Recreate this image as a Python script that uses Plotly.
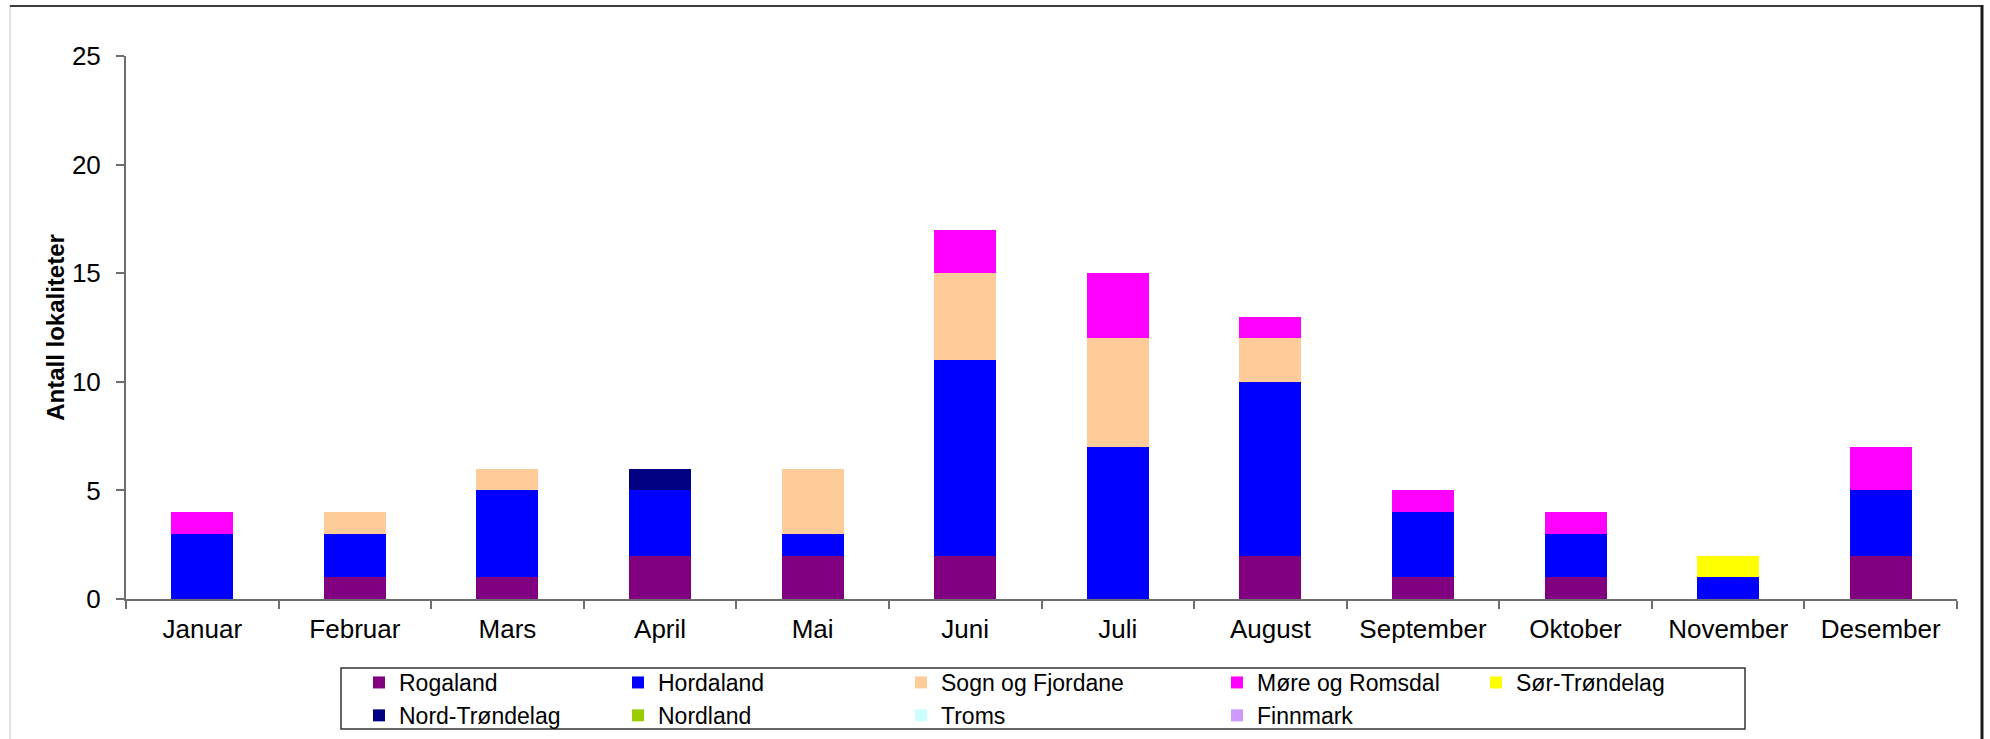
import plotly.graph_objects as go

months = ["Januar", "Februar", "Mars", "April", "Mai", "Juni", "Juli",
          "August", "September", "Oktober", "November", "Desember"]

rogaland        = [0, 1, 1, 2, 2, 2, 0, 2, 1, 1, 0, 2]
hordaland       = [3, 2, 4, 3, 1, 9, 7, 8, 3, 2, 1, 3]
sogn_og_fjordane = [0, 1, 1, 0, 3, 4, 5, 2, 0, 0, 0, 0]
more_og_romsdal = [1, 0, 0, 0, 0, 2, 3, 1, 1, 1, 0, 2]
sor_trondelag   = [0, 0, 0, 0, 0, 0, 0, 0, 0, 0, 1, 0]
nord_trondelag  = [0, 0, 0, 1, 0, 0, 0, 0, 0, 0, 0, 0]
nordland        = [0, 0, 0, 0, 0, 0, 0, 0, 0, 0, 0, 0]
troms           = [0, 0, 0, 0, 0, 0, 0, 0, 0, 0, 0, 0]
finnmark        = [0, 0, 0, 0, 0, 0, 0, 0, 0, 0, 0, 0]

series = [
    ("Rogaland", rogaland, "#800080", "legend"),
    ("Hordaland", hordaland, "#0000FF", "legend2"),
    ("Sogn og Fjordane", sogn_og_fjordane, "#FFCC99", "legend3"),
    ("Møre og Romsdal", more_og_romsdal, "#FF00FF", "legend4"),
    ("Sør-Trøndelag", sor_trondelag, "#FFFF00", "legend5"),
    ("Nord-Trøndelag", nord_trondelag, "#000080", "legend"),
    ("Nordland", nordland, "#99CC00", "legend2"),
    ("Troms", troms, "#CCFFFF", "legend3"),
    ("Finnmark", finnmark, "#CC99FF", "legend4"),
]

W, H = 1990, 739
L, R, T, B = 126, 33, 56, 140
PW, PH = W - L - R, H - T - B


def px2x(px):
    return (px - L) / PW


def px2y(py):
    return (H - B - py) / PH


FONT = "Liberation Sans, Arial, sans-serif"

fig = go.Figure()
for name, vals, color, leg in series:
    fig.add_trace(go.Bar(
        x=months, y=vals, name=name, legend=leg,
        marker=dict(color=color, line=dict(width=0)),
    ))

legend_text_starts = [397, 656, 939, 1255, 1514]
legend_keys = ["legend", "legend2", "legend3", "legend4", "legend5"]
legend_top_px = 661
legends = {}
for key, tx in zip(legend_keys, legend_text_starts):
    legends[key] = dict(
        x=px2x(tx - 38), y=px2y(legend_top_px), xanchor="left", yanchor="top",
        orientation="v", traceorder="normal", bgcolor="rgba(0,0,0,0)",
        borderwidth=0, font=dict(family=FONT, size=23, color="#000000"),
        itemclick=False, itemdoubleclick=False,
    )

axis_line = "#6e6e6e"

fig.update_layout(
    width=W, height=H,
    margin=dict(l=L, r=R, t=T, b=B, autoexpand=False),
    paper_bgcolor="white", plot_bgcolor="white",
    barmode="stack", bargap=0.594,
    font=dict(family=FONT, color="#000000"),
    showlegend=True,
    **legends,
    xaxis=dict(
        showline=True, linecolor=axis_line, linewidth=2,
        ticks="outside", tickson="boundaries", ticklen=8, tickwidth=2,
        tickcolor=axis_line, showgrid=False, zeroline=False,
        tickfont=dict(family=FONT, size=26, color="#000000"),
        ticklabelstandoff=6,
        fixedrange=True,
    ),
    yaxis=dict(
        range=[0, 25], dtick=5, tick0=0,
        showline=True, linecolor=axis_line, linewidth=2,
        ticks="outside", ticklen=8, tickwidth=2, tickcolor=axis_line,
        showgrid=False, zeroline=False,
        tickfont=dict(family=FONT, size=26, color="#000000"),
        ticklabelstandoff=10,
        title=dict(text="<b>Antall lokaliteter</b>", standoff=0,
                   font=dict(family=FONT, size=24, color="#000000")),
        fixedrange=True,
    ),
    shapes=[
        # legend frame
        dict(type="rect", xref="paper", yref="paper",
             x0=px2x(341), x1=px2x(1745), y0=px2y(668), y1=px2y(729),
             line=dict(color="#333333", width=1.5), fillcolor="rgba(0,0,0,0)",
             layer="below"),
        # outer chart frame
        dict(type="line", xref="paper", yref="paper",
             x0=px2x(10), x1=px2x(10), y0=px2y(5), y1=px2y(739),
             line=dict(color="#c8c8c8", width=1)),
        dict(type="line", xref="paper", yref="paper",
             x0=px2x(10), x1=px2x(1983), y0=px2y(6), y1=px2y(6),
             line=dict(color="#3c3c3c", width=2)),
        dict(type="line", xref="paper", yref="paper",
             x0=px2x(1982), x1=px2x(1982), y0=px2y(5), y1=px2y(739),
             line=dict(color="#1a1a1a", width=3)),
    ],
)

fig.write_html(
    "out.html",
    config={"displayModeBar": False},
    post_script="document.body.style.margin='0';document.body.style.overflow='hidden';",
)
